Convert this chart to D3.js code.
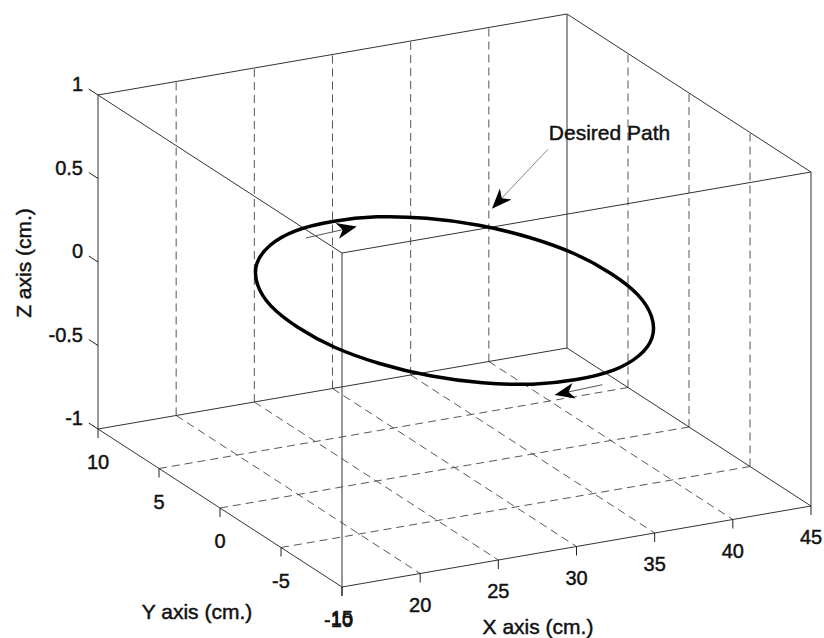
<!DOCTYPE html>
<html>
<head>
<meta charset="utf-8">
<script src="https://cdn.jsdelivr.net/npm/d3@7"></script>
<style>
  html, body { margin: 0; padding: 0; background: #fff; overflow: hidden; }
</style>
</head>
<body>
<script>
// Axis ticks
const xTicks = [15, 20, 25, 30, 35, 40, 45];
const yTicks = [10, 5, 0, -5, -10];
const zTicks = [1, 0.5, 0, -0.5, -1];
const xGrid = [20, 25, 30, 35, 40];
const yGrid = [5, 0, -5];

// Desired path (cm.): a circle in the z = 0 plane
const pathX = [40.0, 39.7, 38.7, 37.1, 35.0, 32.6, 30.0, 27.4, 25.0, 22.9, 21.3, 20.3,
               20.0, 20.3, 21.3, 22.9, 25.0, 27.4, 30.0, 32.6, 35.0, 37.1, 38.7, 39.7];
const pathY = [0.0, 2.6, 5.0, 7.1, 8.7, 9.7, 10.0, 9.7, 8.7, 7.1, 5.0, 2.6,
               0.0, -2.6, -5.0, -7.1, -8.7, -9.7, -10.0, -9.7, -8.7, -7.1, -5.0, -2.6];
const pathZ = [0, 0, 0, 0, 0, 0, 0, 0, 0, 0, 0, 0,
               0, 0, 0, 0, 0, 0, 0, 0, 0, 0, 0, 0];

// Annotations in normalized figure units (like MATLAB annotation())
const arrowNames = ["dirTop", "dirBottom", "desired"];
const arrowTail = [[0.371, 0.627], [0.731, 0.397], [0.665, 0.766]];
const arrowTip  = [[0.433, 0.645], [0.673, 0.381], [0.597, 0.673]];
const noteText = "Desired Path";
const notePos = [0.666, 0.781];

const W = 824, H = 638;
const font = "'Liberation Sans', Arial, Helvetica, sans-serif";

const svg = d3.select("body").append("svg")
  .attr("width", W).attr("height", H)
  .style("display", "block")
  .style("background", "#fff");

// Oblique 3-D projection: each data axis is a linear scale along one box edge.
const origin = [98, 429];           // screen point of (15, 10, -1)
const ex = [469, -81], ey = [244, 158];
const X = d3.scaleLinear().domain([15, 45]).range([0, 1]);
const Y = d3.scaleLinear().domain([10, -10]).range([0, 1]);
const Z = d3.scaleLinear().domain([-1, 1]).range([0, -334]);
const proj = (x, y, z) => {
  const u = X(x), v = Y(y);
  return [origin[0] + u * ex[0] + v * ey[0], origin[1] + u * ex[1] + v * ey[1] + Z(z)];
};

// Figure-normalized scales for annotations
const FX = d3.scaleLinear().domain([0, 1]).range([0, W]);
const FY = d3.scaleLinear().domain([0, 1]).range([H, 0]);

const seg = (g, a, b) => g.append("line")
  .attr("x1", a[0]).attr("y1", a[1]).attr("x2", b[0]).attr("y2", b[1]);

// Grid lines (dashed)
const grid = svg.append("g")
  .attr("stroke", "#444").attr("stroke-width", 0.9)
  .attr("stroke-dasharray", "8,5").attr("fill", "none");
xGrid.forEach(x => {
  seg(grid, proj(x, 10, -1), proj(x, 10, 1));     // back wall
  seg(grid, proj(x, 10, -1), proj(x, -10, -1));   // floor
});
yGrid.forEach(y => {
  seg(grid, proj(45, y, -1), proj(45, y, 1));     // right wall
  seg(grid, proj(15, y, -1), proj(45, y, -1));    // floor
});

// Box edges
const box = svg.append("g").attr("stroke", "#333").attr("stroke-width", 1).attr("fill", "none");
const xs = [15, 45], ys = [10, -10], zs = [-1, 1];
ys.forEach(y => zs.forEach(z => seg(box, proj(15, y, z), proj(45, y, z))));
xs.forEach(x => zs.forEach(z => seg(box, proj(x, 10, z), proj(x, -10, z))));
xs.forEach(x => ys.forEach(y => seg(box, proj(x, y, -1), proj(x, y, 1))));

// Ticks
const ticks = svg.append("g").attr("stroke", "#222").attr("stroke-width", 1);
const zDir = [-ey[0], -ey[1]];
const zLen = 11 / Math.hypot(zDir[0], zDir[1]);
zTicks.forEach(z => {
  const p = proj(15, 10, z);
  seg(ticks, p, [p[0] + zDir[0] * zLen, p[1] + zDir[1] * zLen]);
});
xTicks.forEach(x => { const p = proj(x, -10, -1); seg(ticks, p, [p[0], p[1] + 9]); });
yTicks.forEach(y => { const p = proj(15, y, -1); seg(ticks, p, [p[0], p[1] + 9]); });

// Desired path
const pts = pathX.map((x, i) => proj(x, pathY[i], pathZ[i]));
svg.append("path")
  .attr("d", d3.line().curve(d3.curveCardinalClosed.tension(0))(pts))
  .attr("fill", "none").attr("stroke", "#000").attr("stroke-width", 3.5);

// Tick labels
const labels = svg.append("g")
  .attr("font-family", font).attr("font-size", 20).attr("fill", "#111")
  .attr("stroke", "#111").attr("stroke-width", 0.45);
zTicks.forEach(z => {
  const p = proj(15, 10, z);
  labels.append("text")
    .attr("x", p[0] - 15).attr("y", p[1] - 4)
    .attr("text-anchor", "end")
    .text(String(z));
});
xTicks.forEach(x => {
  const p = proj(x, -10, -1);
  labels.append("text")
    .attr("x", x === 15 ? p[0] + 11 : p[0]).attr("y", p[1] + 38)
    .attr("text-anchor", x === 15 ? "end" : "middle")
    .text(String(x));
});
yTicks.forEach(y => {
  const p = proj(15, y, -1);
  labels.append("text")
    .attr("x", y === -10 ? p[0] + 11 : p[0]).attr("y", p[1] + 40)
    .attr("text-anchor", y === -10 ? "end" : "middle")
    .text(String(y));
});

// Axis titles
const titles = svg.append("g")
  .attr("font-family", font).attr("font-size", 21).attr("fill", "#111")
  .attr("stroke", "#111").attr("stroke-width", 0.45)
  .attr("text-anchor", "middle");
titles.append("text").attr("transform", "translate(31,263) rotate(-90)").text("Z axis (cm.)");
titles.append("text").attr("x", 197).attr("y", 619).text("Y axis (cm.)");
titles.append("text").attr("x", 538).attr("y", 634).text("X axis (cm.)");

// Annotation arrows
function arrow(tail, tip, lineColor) {
  const a = [FX(tail[0]), FY(tail[1])], b = [FX(tip[0]), FY(tip[1])];
  const ang = Math.atan2(b[1] - a[1], b[0] - a[0]);
  const len = 20, half = 8;
  const g = svg.append("g");
  g.append("line")
    .attr("x1", a[0]).attr("y1", a[1]).attr("x2", b[0] - Math.cos(ang) * 12).attr("y2", b[1] - Math.sin(ang) * 12)
    .attr("stroke", lineColor).attr("stroke-width", 1);
  const head = [[0, 0], [-len, -half], [-len * 0.72, 0], [-len, half]];
  g.append("path")
    .attr("d", d3.line()(head) + "Z")
    .attr("transform", `translate(${b[0]},${b[1]}) rotate(${ang * 180 / Math.PI})`)
    .attr("fill", "#000");
}
arrowNames.forEach((n, i) => arrow(arrowTail[i], arrowTip[i], n === "desired" ? "#888" : "#555"));

svg.append("text")
  .attr("x", FX(notePos[0])).attr("y", FY(notePos[1]))
  .attr("font-family", font).attr("font-size", 21).attr("fill", "#111")
  .attr("stroke", "#111").attr("stroke-width", 0.45)
  .text(noteText);
</script>
</body>
</html>
